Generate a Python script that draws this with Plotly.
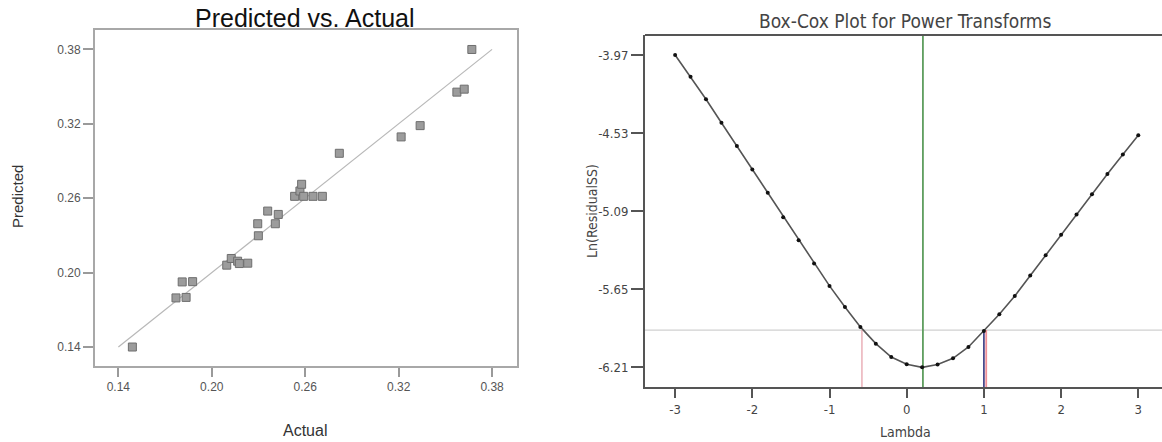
import plotly.graph_objects as go

# ---- Predicted vs. Actual data ----
actual = [0.149, 0.177, 0.1835, 0.181, 0.1877, 0.2096, 0.2125, 0.2166, 0.2177,
          0.2231, 0.2299, 0.2295, 0.2359, 0.2408, 0.2427, 0.2532, 0.2566,
          0.2577, 0.2590, 0.2650, 0.2710, 0.2819, 0.3216, 0.3338, 0.3574,
          0.3621, 0.3670]
predicted = [0.140, 0.1796, 0.180, 0.1925, 0.1927, 0.206, 0.2114, 0.2092, 0.2073,
             0.2076, 0.2297, 0.2394, 0.2496, 0.2394, 0.2469, 0.2615, 0.2658,
             0.2712, 0.2615, 0.2615, 0.2615, 0.2962, 0.3094, 0.3185, 0.3455,
             0.3479, 0.3799]
fit_line = [0.14, 0.38]
pa_ticks = [0.14, 0.20, 0.26, 0.32, 0.38]

# ---- Box-Cox data ----
lambdas = [-3.0, -2.8, -2.6, -2.4, -2.2, -2.0, -1.8, -1.6, -1.4, -1.2, -1.0,
           -0.8, -0.6, -0.4, -0.2, 0.0, 0.2, 0.4, 0.6, 0.8, 1.0, 1.2, 1.4,
           1.6, 1.8, 2.0, 2.2, 2.4, 2.6, 2.8, 3.0]
ln_rss = [-3.970, -4.126, -4.288, -4.456, -4.623, -4.791, -4.958, -5.133,
          -5.298, -5.465, -5.626, -5.777, -5.920, -6.040, -6.136, -6.188,
          -6.210, -6.190, -6.145, -6.064, -5.949, -5.829, -5.698, -5.551,
          -5.406, -5.260, -5.114, -4.968, -4.824, -4.683, -4.546]
bc_yticks = [-3.97, -4.53, -5.09, -5.65, -6.21]
bc_xticks = [-3, -2, -1, 0, 1, 2, 3]
ci_threshold = -5.943
best_lambda = 0.21
ci_low = -0.58
ci_high = 1.03
current_lambda = 1.0
current_value = -5.949

# axis extents
pa_xrange = [0.125, 0.396]
pa_yrange = [0.1247, 0.3956]
bc_xrange = [-3.39, 3.307]
bc_yrange = [-6.353, -3.827]

W, H = 1162, 442
FONT = "Liberation Sans, Arial, sans-serif"
NARROW = "Liberation Sans Narrow, DejaVu Sans Condensed, Arial Narrow, Liberation Sans, sans-serif"


def px_x(p):
    return p / W


def px_y(p):
    return 1 - p / H


fig = go.Figure()

# Left panel: reference line and observations
fig.add_trace(go.Scatter(x=fit_line, y=fit_line, mode="lines",
                         line=dict(color="#b8b8b8", width=1.2),
                         xaxis="x", yaxis="y", hoverinfo="skip"))
fig.add_trace(go.Scatter(x=actual, y=predicted, mode="markers",
                         marker=dict(symbol="square", size=8, color="#9c9c9c",
                                     line=dict(color="#6e6e6e", width=1)),
                         xaxis="x", yaxis="y"))

# Right panel: confidence threshold, lambda markers and the curve
fig.add_trace(go.Scatter(x=bc_xrange, y=[ci_threshold, ci_threshold],
                         mode="lines", line=dict(color="#d0d0d0", width=1.2),
                         xaxis="x2", yaxis="y2", hoverinfo="skip"))
fig.add_trace(go.Scatter(x=[best_lambda, best_lambda], y=bc_yrange, mode="lines",
                         line=dict(color="#5e9e5e", width=1.8),
                         xaxis="x2", yaxis="y2", hoverinfo="skip"))
fig.add_trace(go.Scatter(x=[ci_low, ci_low], y=[bc_yrange[0], ci_threshold], mode="lines",
                         line=dict(color="#eab0b8", width=1.5),
                         xaxis="x2", yaxis="y2", hoverinfo="skip"))
fig.add_trace(go.Scatter(x=[ci_high, ci_high], y=[bc_yrange[0], ci_threshold], mode="lines",
                         line=dict(color="#f09098", width=1.8),
                         xaxis="x2", yaxis="y2", hoverinfo="skip"))
fig.add_trace(go.Scatter(x=[current_lambda, current_lambda], y=[bc_yrange[0], current_value],
                         mode="lines", line=dict(color="#4a4a8c", width=1.8),
                         xaxis="x2", yaxis="y2", hoverinfo="skip"))
fig.add_trace(go.Scatter(x=lambdas, y=ln_rss, mode="lines+markers",
                         line=dict(color="#555555", width=1.6),
                         marker=dict(color="#111111", size=4),
                         xaxis="x2", yaxis="y2"))

tickfont_l = dict(family=FONT, size=12, color="#555555")
tickfont_r = dict(family=NARROW, size=13, color="#444444")

fig.update_layout(
    width=W, height=H, margin=dict(l=0, r=0, t=0, b=0),
    paper_bgcolor="white", plot_bgcolor="white", showlegend=False,
    xaxis=dict(domain=[px_x(95), px_x(517)], range=pa_xrange,
               tickvals=pa_ticks, ticktext=[f"{v:.2f}" for v in pa_ticks],
               ticks="outside", ticklen=9, tickwidth=1.5, tickcolor="#9a9a9a",
               showline=True, linecolor="#a8a8a8", linewidth=2, mirror=True,
               showgrid=False, zeroline=False, tickfont=tickfont_l),
    yaxis=dict(domain=[px_y(366), px_y(30)], range=pa_yrange,
               tickvals=pa_ticks, ticktext=[f"{v:.2f}" for v in pa_ticks],
               ticks="outside", ticklen=10, tickwidth=1.5, tickcolor="#9a9a9a",
               showline=True, linecolor="#a8a8a8", linewidth=2, mirror=True,
               showgrid=False, zeroline=False, tickfont=tickfont_l),
    xaxis2=dict(domain=[px_x(645), 1.0], range=bc_xrange, anchor="y2",
                tickvals=bc_xticks, ticktext=[str(v) for v in bc_xticks],
                ticks="outside", ticklen=9, tickwidth=1.5, tickcolor="#555555",
                showline=True, linecolor="#555555", linewidth=2,
                showgrid=False, zeroline=False, tickfont=tickfont_r),
    yaxis2=dict(domain=[px_y(387.3), px_y(35)], range=bc_yrange, anchor="x2",
                tickvals=bc_yticks, ticktext=[f"{v:.2f}" for v in bc_yticks],
                ticks="outside", ticklen=12, tickwidth=1.5, tickcolor="#555555",
                showline=True, linecolor="#555555", linewidth=2,
                showgrid=False, zeroline=False, tickfont=tickfont_r),
    shapes=[dict(type="line", xref="paper", yref="paper",
                 x0=px_x(645), x1=1.0, y0=px_y(35), y1=px_y(35),
                 line=dict(color="#555555", width=2))],
    annotations=[
        dict(text="Predicted vs. Actual", x=px_x(305), y=px_y(18), xref="paper", yref="paper",
             showarrow=False, xanchor="center", yanchor="middle",
             font=dict(family=FONT, size=25, color="#111111")),
        dict(text="Actual", x=px_x(305), y=px_y(430), xref="paper", yref="paper",
             showarrow=False, xanchor="center", yanchor="middle",
             font=dict(family=FONT, size=16, color="#333333")),
        dict(text="Predicted", x=px_x(17), y=px_y(197), xref="paper", yref="paper",
             showarrow=False, xanchor="center", yanchor="middle", textangle=-90,
             font=dict(family=FONT, size=15, color="#333333")),
        dict(text="Box-Cox Plot for Power Transforms", x=px_x(905), y=px_y(21),
             xref="paper", yref="paper", showarrow=False, xanchor="center", yanchor="middle",
             font=dict(family=NARROW, size=19, color="#444444")),
        dict(text="Lambda", x=px_x(905), y=px_y(432), xref="paper", yref="paper",
             showarrow=False, xanchor="center", yanchor="middle",
             font=dict(family=NARROW, size=14, color="#444444")),
        dict(text="Ln(ResidualSS)", x=px_x(592), y=px_y(211), xref="paper", yref="paper",
             showarrow=False, xanchor="center", yanchor="middle", textangle=-90,
             font=dict(family=NARROW, size=14, color="#444444")),
    ],
)

fig.write_html("out.html")
